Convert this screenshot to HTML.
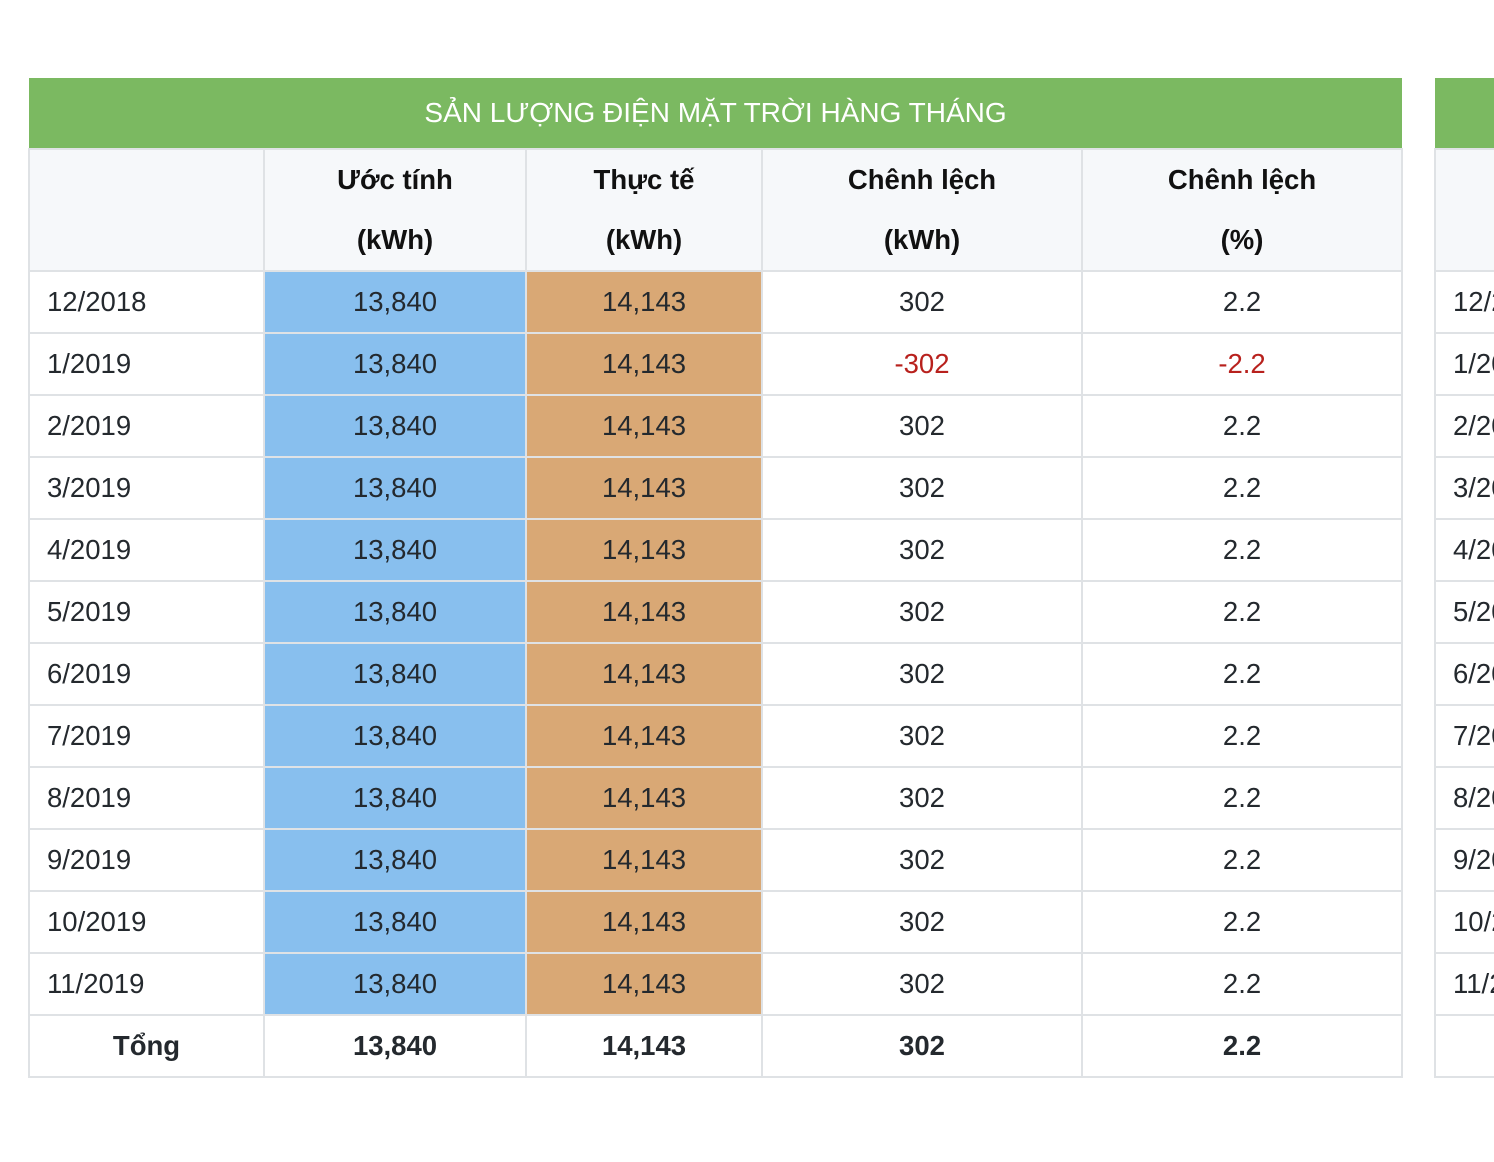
<!DOCTYPE html>
<html><head><meta charset="utf-8">
<style>
html,body{margin:0;padding:0;background:#fff;width:1494px;height:1162px;overflow:hidden;position:relative;}
#wrap{position:absolute;left:0;top:0;width:1494px;height:1162px;overflow:hidden;}
table{position:absolute;top:78px;border-collapse:collapse;table-layout:fixed;font-family:"Liberation Sans",Arial,sans-serif;font-size:27.5px;color:#24292e;}
td,th{border:2px solid #dfe2e5;padding:0;height:60px;text-align:center;white-space:nowrap;overflow:hidden;}
th.title{background:#7bb961;color:#fff;font-weight:normal;height:70px;border:none;border-bottom:2px solid #dfe2e5;font-size:28px;}
tr.head th{background:#f6f8fa;font-weight:bold;height:120px;line-height:60px;color:#111;}
td.date{text-align:left;padding-left:17px;}
td.est{background:#88bfee;}
td.act{background:#d9a875;}
td.neg{color:#b8211d;}
tr.total td{font-weight:bold;}
</style></head>
<body>
<div id="wrap"></div>
<script>
const months=["12/2018","1/2019","2/2019","3/2019","4/2019","5/2019","6/2019","7/2019","8/2019","9/2019","10/2019","11/2019"];
const estimated=["13,840","13,840","13,840","13,840","13,840","13,840","13,840","13,840","13,840","13,840","13,840","13,840"];
const actual=["14,143","14,143","14,143","14,143","14,143","14,143","14,143","14,143","14,143","14,143","14,143","14,143"];
const diffKwh=["302","-302","302","302","302","302","302","302","302","302","302","302"];
const diffPct=["2.2","-2.2","2.2","2.2","2.2","2.2","2.2","2.2","2.2","2.2","2.2","2.2"];
const totals=["Tổng","13,840","14,143","302","2.2"];
const headers=["","Ước tính<br>(kWh)","Thực tế<br>(kWh)","Chênh lệch<br>(kWh)","Chênh lệch<br>(%)"];
const widths=[235,262,236,320,320];
const wrap=document.getElementById('wrap');

function cell(tr,tag,html,cls,name){
  const c=document.createElement(tag);
  c.innerHTML=html;
  if(cls)c.className=cls;
  
  
  tr.appendChild(c);
  return c;
}
function buildTable(left,suffix){
  const t=document.createElement('table');
  
  
  t.style.left=left+'px';
  t.style.width='1374px';
  const cg=document.createElement('colgroup');
  widths.forEach(w=>{const c=document.createElement('col');c.style.width=w+'px';cg.appendChild(c);});
  t.appendChild(cg);
  const tr0=document.createElement('tr');
  
  
  const th=cell(tr0,'th','SẢN LƯỢNG ĐIỆN MẶT TRỜI HÀNG THÁNG','title','table-title');
  th.colSpan=5;
  t.appendChild(tr0);
  const tr1=document.createElement('tr');
  tr1.className='head';
  
  
  headers.forEach((h,i)=>cell(tr1,'th',h,'','column-header'));
  t.appendChild(tr1);
  months.forEach((m,i)=>{
    const tr=document.createElement('tr');
    
    
    cell(tr,'td',m,'date','month-cell');
    cell(tr,'td',estimated[i],'est','estimated-cell');
    cell(tr,'td',actual[i],'act','actual-cell');
    cell(tr,'td',diffKwh[i],diffKwh[i].startsWith('-')?'neg':'','diff-kwh-cell');
    cell(tr,'td',diffPct[i],diffPct[i].startsWith('-')?'neg':'','diff-pct-cell');
    t.appendChild(tr);
  });
  const trT=document.createElement('tr');
  trT.className='total';
  
  
  totals.forEach(v=>cell(trT,'td',v,'','total-cell'));
  t.appendChild(trT);
  wrap.appendChild(t);
}
buildTable(28,'');
buildTable(1434,'-2');
</script>
</body></html>
